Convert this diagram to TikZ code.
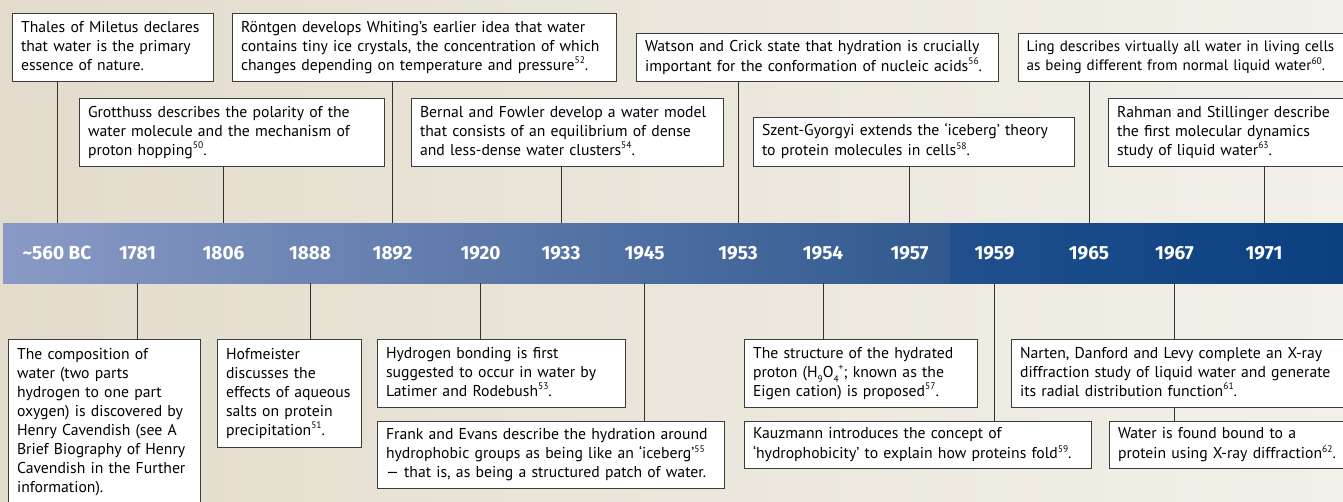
\documentclass[tikz,border=0pt]{standalone}
\usepackage{fontspec}
\newfontfamily\bodyfont{PT Sans}
\newfontfamily\yearfont{Fira Sans}
\newcommand\citeup[1]{\raisebox{0.42em}{\fontsize{9.5}{9.5}\selectfont #1}}
\newcommand\subdn[1]{\raisebox{-0.3em}{\fontsize{9.5}{9.5}\selectfont #1}}
\definecolor{bgL}{HTML}{E3DCCD}
\definecolor{bgR}{HTML}{F2F0E9}
\definecolor{bandAa}{HTML}{8A9AC6}
\definecolor{bandAb}{HTML}{30598F}
\definecolor{bandBa}{HTML}{21508D}
\definecolor{bandBb}{HTML}{0A3F80}
\definecolor{edgecol}{HTML}{3C3C3C}
\definecolor{conncol}{HTML}{333333}
\begin{document}
\begin{tikzpicture}[x=1pt,y=-1pt,
 evbox/.style={draw=edgecol, line width=1.1pt, fill=white, anchor=north west, inner xsep=8.5pt, inner ysep=0pt, align=left, font=\bodyfont\fontsize{15.7}{19}\selectfont, execute at begin node=\strut, execute at end node=\strut},
 yr/.style={text=white, font=\yearfont\bfseries\fontsize{19}{19}\selectfont, anchor=base, inner sep=0pt},
 conn/.style={draw=conncol, line width=0.9pt},
 bandpart/.style={anchor=north west, inner sep=0pt, minimum height=60pt}]
\clip (0,0) rectangle (1343,502);
\shade[left color=bgL, right color=bgR] (0,0) rectangle (1343,502);
% band
\node[bandpart, minimum width=947pt, shade, left color=bandAa, right color=bandAb] (banda) at (3,223) {};
\node[bandpart, minimum width=393pt, shade, left color=bandBa, right color=bandBb] (bandb) at (950,223) {};
% years
\node[yr] (y560) at (57,260) {\textasciitilde560 BC};
\node[yr] (y1781) at (137.5,260) {1781};
\node[yr] (y1806) at (223.5,260) {1806};
\node[yr] (y1888) at (310,260) {1888};
\node[yr] (y1892) at (392.5,260) {1892};
\node[yr] (y1920) at (480.5,260) {1920};
\node[yr] (y1933) at (561,260) {1933};
\node[yr] (y1945) at (644.5,260) {1945};
\node[yr] (y1953) at (738,260) {1953};
\node[yr] (y1954) at (823,260) {1954};
\node[yr] (y1957) at (909.5,260) {1957};
\node[yr] (y1959) at (994.5,260) {1959};
\node[yr] (y1965) at (1089,260) {1965};
\node[yr] (y1967) at (1174.5,260) {1967};
\node[yr] (y1971) at (1264,260) {1971};
% top boxes
\node[evbox, text width=184pt, minimum height=68pt] (thales) at (12,13) {Thales of Miletus declares\\that water is the primary\\essence of nature.};
\node[evbox, text width=367pt, minimum height=68pt] (rontgen) at (232,13) {Röntgen develops Whiting’s earlier idea that water\\contains tiny ice crystals, the concentration of which\\changes depending on temperature and pressure\citeup{52}.};
\node[evbox, text width=345pt, minimum height=48pt] (watson) at (636,33) {Watson and Crick state that hydration is crucially\\important for the conformation of nucleic acids\citeup{56}.};
\node[evbox, text width=324pt, minimum height=48pt, inner xsep=8pt, font=\bodyfont\fontsize{15.1}{19}\selectfont] (ling) at (1018,33) {Ling describes virtually all water in living cells\\as being different from normal liquid water\citeup{60}.};
\node[evbox, text width=288pt, minimum height=68pt] (grotthuss) at (79,98) {Grotthuss describes the polarity of the\\water molecule and the mechanism of\\proton hopping\citeup{50}.};
\node[evbox, text width=295pt, minimum height=68pt] (bernal) at (411,98) {Bernal and Fowler develop a water model\\that consists of an equilibrium of dense\\and less-dense water clusters\citeup{54}.};
\node[evbox, text width=304pt, minimum height=49pt] (szent) at (753,117) {Szent-Gyorgyi extends the ‘iceberg’ theory\\to protein molecules in cells\citeup{58}.};
\node[evbox, text width=228pt, minimum height=68pt] (rahman) at (1108,98) {Rahman and Stillinger describe\\the first molecular dynamics\\study of liquid water\citeup{63}.};
% bottom boxes
\node[evbox, text width=175pt, minimum height=166pt] (cavendish) at (8,339) {The composition of\\water (two parts\\hydrogen to one part\\oxygen) is discovered by\\Henry Cavendish (see A\\Brief Biography of Henry\\Cavendish in the Further\\information).};
\node[evbox, text width=127pt, minimum height=108pt] (hofmeister) at (217,339) {Hofmeister\\discusses the\\effects of aqueous\\salts on protein\\precipitation\citeup{51}.};
\node[evbox, text width=231pt, minimum height=68pt] (hydrogen) at (377,339) {Hydrogen bonding is first\\suggested to occur in water by\\Latimer and Rodebush\citeup{53}.};
\node[evbox, text width=330pt, minimum height=67pt] (frank) at (377,421) {Frank and Evans describe the hydration around\\hydrophobic groups as being like an ‘iceberg’\citeup{55}\\— that is, as being a structured patch of water.};
\node[evbox, text width=216pt, minimum height=68pt] (structure) at (744,339) {The structure of the hydrated\\proton (H\subdn{9}O\subdn{4}\citeup{+}; known as the\\Eigen cation) is proposed\citeup{57}.};
\node[evbox, text width=326pt, minimum height=68pt] (narten) at (1011,339) {Narten, Danford and Levy complete an X-ray\\diffraction study of liquid water and generate\\its radial distribution function\citeup{61}.};
\node[evbox, text width=330pt, minimum height=47pt] (kauzmann) at (744,421) {Kauzmann introduces the concept of\\‘hydrophobicity’ to explain how proteins fold\citeup{59}.};
\node[evbox, text width=226pt, minimum height=47pt] (water) at (1109,421) {Water is found bound to a\\protein using X-ray diffraction\citeup{62}.};
% connectors above
\draw[conn] (thales.south -| y560) -- (y560 |- banda.north);
\draw[conn] (grotthuss.south -| y1806) -- (y1806 |- banda.north);
\draw[conn] (rontgen.south -| y1892) -- (y1892 |- banda.north);
\draw[conn] (bernal.south -| y1933) -- (y1933 |- banda.north);
\draw[conn] (watson.south -| y1953) -- (y1953 |- banda.north);
\draw[conn] (szent.south -| y1957) -- (y1957 |- banda.north);
\draw[conn] (ling.south -| y1965) -- (y1965 |- bandb.north);
\draw[conn] (rahman.south -| y1971) -- (y1971 |- bandb.north);
% connectors below
\draw[conn] (y1781 |- banda.south) -- (cavendish.north -| y1781);
\draw[conn] (y1888 |- banda.south) -- (hofmeister.north -| y1888);
\draw[conn] (y1920 |- banda.south) -- (hydrogen.north -| y1920);
\draw[conn] (y1945 |- banda.south) -- (frank.north -| y1945);
\draw[conn] (y1954 |- banda.south) -- (structure.north -| y1954);
\draw[conn] (y1959 |- bandb.south) -- (kauzmann.north -| y1959);
\draw[conn] (y1967 |- bandb.south) -- (narten.north -| y1967);
\draw[conn] (narten.south -| y1967) -- (water.north -| y1967);
\end{tikzpicture}
\end{document}
